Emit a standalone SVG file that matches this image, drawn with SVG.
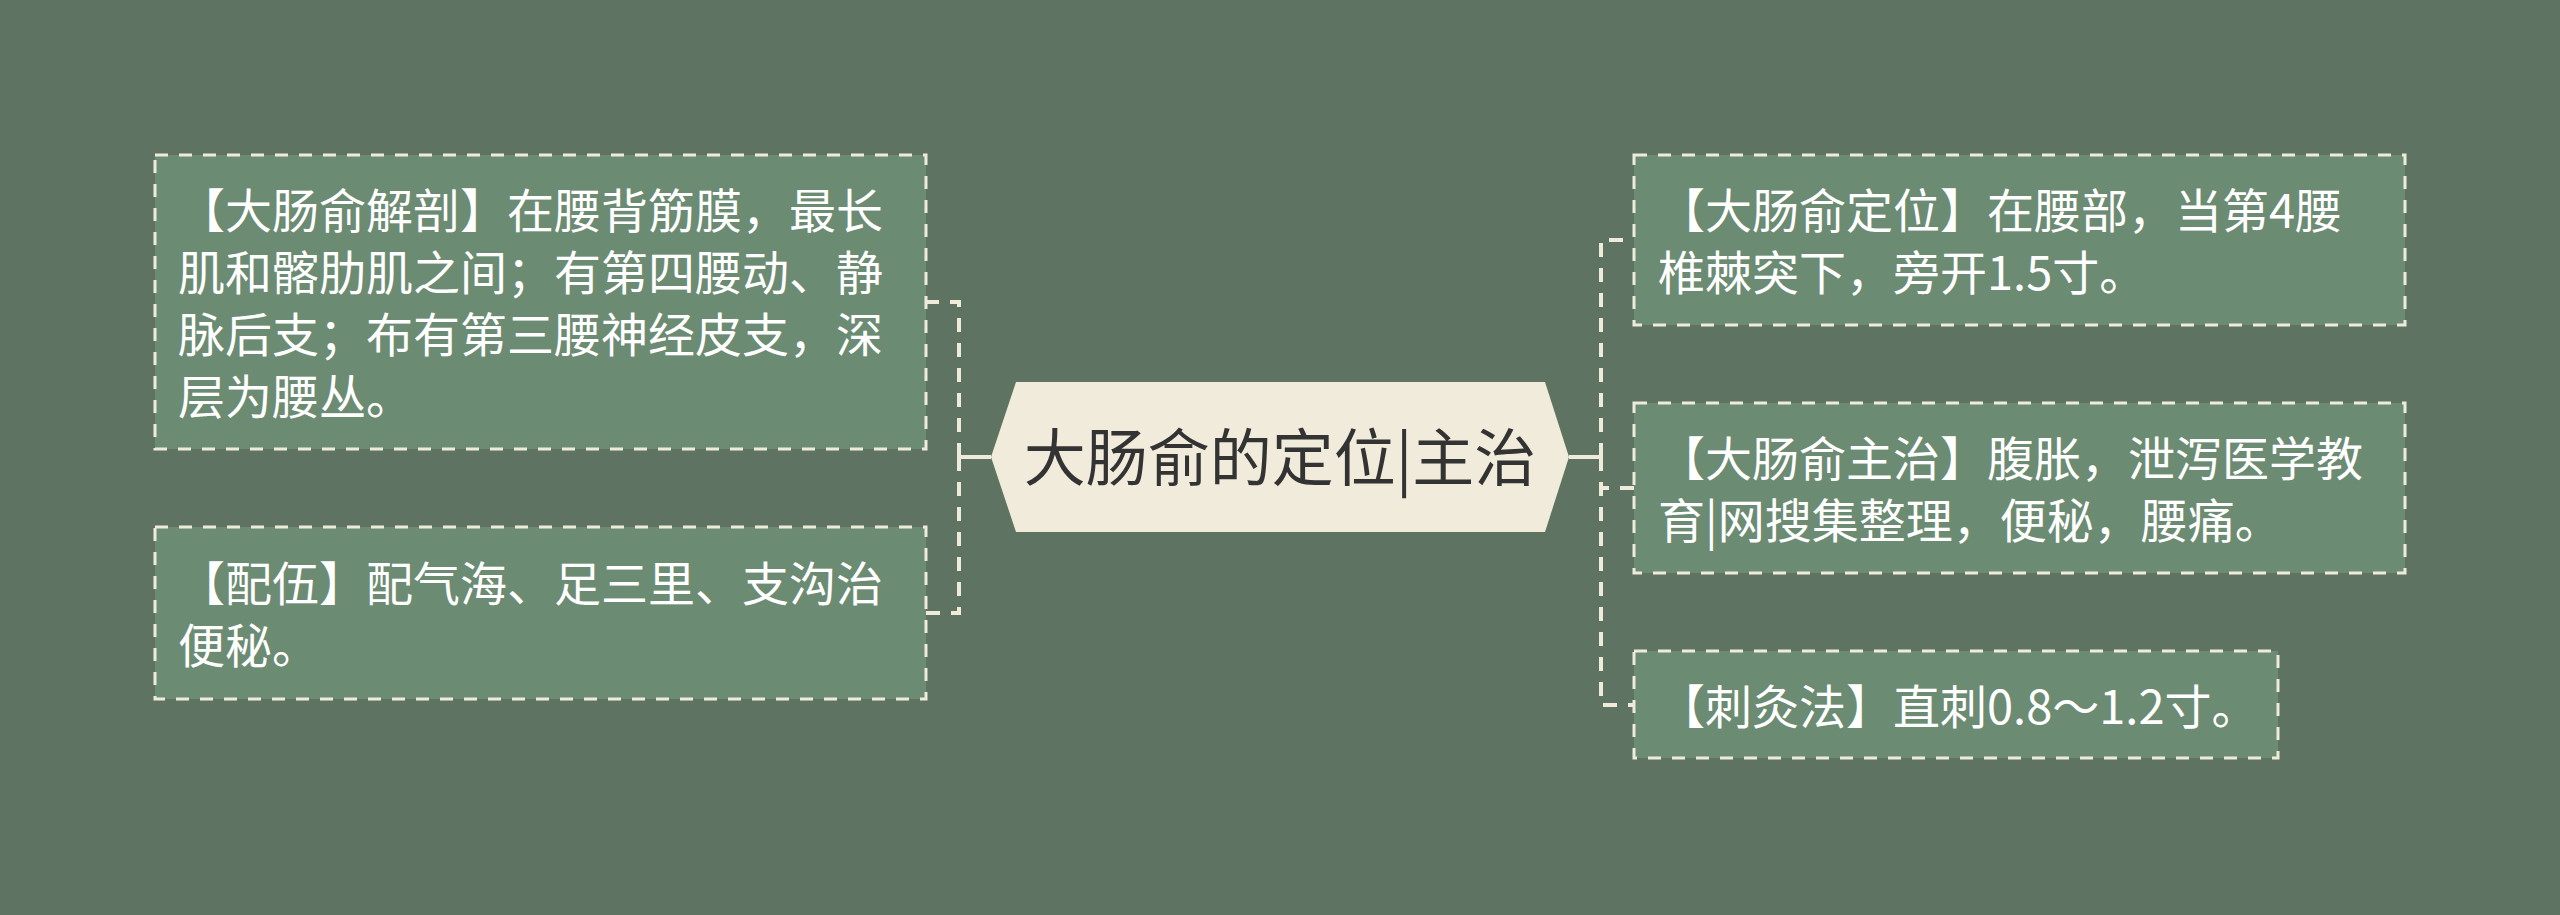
<svg xmlns="http://www.w3.org/2000/svg" width="2560" height="915" viewBox="0 0 2560 915">
<style>
.box{fill:#6C8B73;stroke:#EFEBDA;stroke-width:3;stroke-dasharray:13 11}
.t{font-family:"Noto Sans CJK SC","Noto Sans",sans-serif;font-size:47px;fill:#FFFFFF}
.ct{font-family:"Noto Sans CJK SC","Noto Sans",sans-serif;font-size:62px;fill:#333333}
.dash{fill:none;stroke:#EFEBDA;stroke-width:4;stroke-dasharray:14 11}
.solid{fill:none;stroke:#EFEBDA;stroke-width:4}
</style>
<rect x="0" y="0" width="2560" height="915" fill="#5F7362"/>
<g id="connectors">
<path class="solid" d="M991,457 H959"/>
<path class="dash" d="M959,457 V302 H926"/>
<path class="dash" d="M959,457 V613 H926"/>
<path class="solid" d="M1569,457 H1601"/>
<path class="dash" d="M1601,457 V240 H1634"/>
<path class="dash" d="M1601,457 V488 H1634"/>
<path class="dash" d="M1601,457 V705 H1634"/>
</g>
<g id="root">
<polygon points="991,457 1016,382 1545,382 1569,457 1545,532 1016,532" fill="#F0EBDA"/>
<text class="ct" x="1280" y="481" text-anchor="middle">大肠俞的定位|主治</text>
</g>
<g id="node-anatomy">
<rect class="box" x="155" y="155" width="771" height="294"/>
<text class="t" x="178" y="228">【大肠俞解剖】在腰背筋膜，最长</text>
<text class="t" x="178" y="290">肌和髂肋肌之间；有第四腰动、静</text>
<text class="t" x="178" y="352">脉后支；布有第三腰神经皮支，深</text>
<text class="t" x="178" y="414">层为腰丛。</text>
</g>
<g id="node-pairing">
<rect class="box" x="155" y="527" width="771" height="172"/>
<text class="t" x="178" y="601">【配伍】配气海、足三里、支沟治</text>
<text class="t" x="178" y="663">便秘。</text>
</g>
<g id="node-location">
<rect class="box" x="1634" y="155" width="771" height="170"/>
<text class="t" x="1658" y="228">【大肠俞定位】在腰部，当第4腰</text>
<text class="t" x="1658" y="290">椎棘突下，旁开1.5寸。</text>
</g>
<g id="node-indication">
<rect class="box" x="1634" y="403" width="771" height="170"/>
<text class="t" x="1658" y="476">【大肠俞主治】腹胀，泄泻医学教</text>
<text class="t" x="1658" y="538">育|网搜集整理，便秘，腰痛。</text>
</g>
<g id="node-needling">
<rect class="box" x="1634" y="651" width="644" height="107"/>
<text class="t" x="1658" y="724">【刺灸法】直刺0.8～1.2寸。</text>
</g>
</svg>
